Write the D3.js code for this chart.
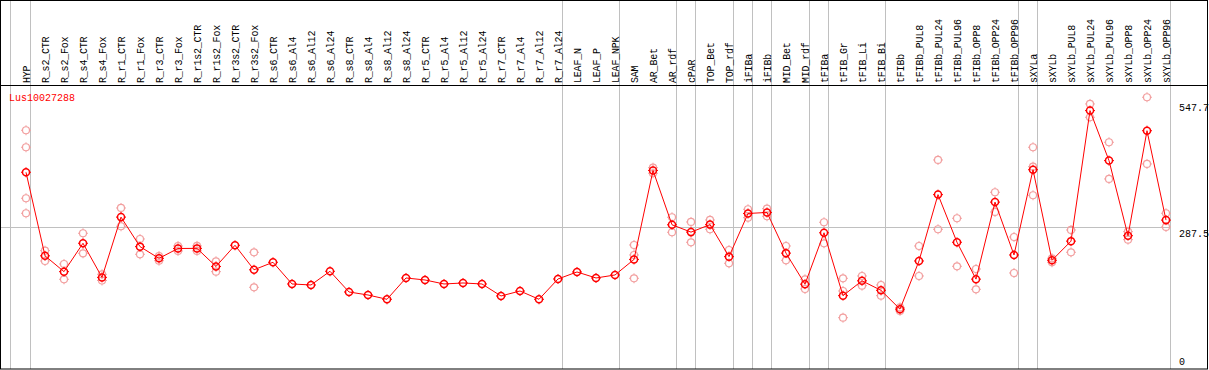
<!DOCTYPE html>
<html><head><meta charset="utf-8">
<script src="https://cdn.jsdelivr.net/npm/d3@7"></script>
<style>
html,body{margin:0;padding:0;background:#fff;}
svg{display:block;}
text{font-family:"Liberation Mono","DejaVu Sans Mono",monospace;font-size:10px;}
</style></head>
<body>
<svg id="chart" width="1209" height="370"></svg>
<script>
const geneName = "Lus10027288";
const categories = ["HYP","R_s2_CTR","R_s2_Fox","R_s4_CTR","R_s4_Fox","R_r1_CTR","R_r1_Fox","R_r3_CTR","R_r3_Fox","R_r1s2_CTR","R_r1s2_Fox","R_r3s2_CTR","R_r3s2_Fox","R_s6_CTR","R_s6_Al4","R_s6_Al12","R_s6_Al24","R_s8_CTR","R_s8_Al4","R_s8_Al12","R_s8_Al24","R_r5_CTR","R_r5_Al4","R_r5_Al12","R_r5_Al24","R_r7_CTR","R_r7_Al4","R_r7_Al12","R_r7_Al24","LEAF_N","LEAF_P","LEAF_NPK","SAM","AR_Bet","AR_rdf","cPAR","TOP_Bet","TOP_rdf","iFIBa","iFIBb","MID_Bet","MID_rdf","tFIBa","tFIB_Gr","tFIB_Li","tFIB_Bi","tFIBb","tFIBb_PUL8","tFIBb_PUL24","tFIBb_PUL96","tFIBb_OPP8","tFIBb_OPP24","tFIBb_OPP96","sXYLa","sXYLb","sXYLb_PUL8","sXYLb_PUL24","sXYLb_PUL96","sXYLb_OPP8","sXYLb_OPP24","sXYLb_OPP96"];
const means = [398.2,231.1,199.5,256.2,188,308.5,249.5,226.1,245.8,246,209.8,252.2,203.2,218.2,174.8,172.8,200.2,158.8,152.8,144.2,186.8,182.8,174.8,176.8,174.8,150.8,160.8,144.2,184.8,198.8,186.8,192.8,223.9,401.8,293.2,278.5,293.5,229.5,315.8,317.8,236.5,174.5,277.2,151.5,181.1,162.1,124.5,220.8,353.5,258.2,184.5,338.5,232.8,403.3,222.2,260.5,521.5,421.5,271.4,481.3,302.5];
const replicates = [
 [482.2,448.2,346.2,316.2],[241.4,220.8],[214.8,184.2],[276.2,236.2],[194.2,181.8],[326.8,290.2],[264.8,234.2],[230.8,221.4],[250.8,240.8],[251,241],[220.2,199.4],[],[238.2,168.2],[],[],[],[],[],[],[],[],[],[],[],[],[],[],[],[],[],[],[],
 [252.8,232.8,186.2],[407.4,396.2],[308.2,278.2],[298.8,258.2],[302.8,284.2],[242.8,216.2],[324.2,307.4],[325.4,310.2],[250.8,222.2],[184.2,164.8],[298.2,256.2],[186.2,160.8,107.4],[190.8,171.4],[172.8,151.4],[128,121],
 [250.8,190.8],[422.8,284.2],[306.2,210.2],[204.8,164.2],[358.2,318.8],[268.8,196.8],[448.2,409.4,352.2],[226.2,218.2],[282.8,238.2],[534.8,508.2],[458.2,384.8],[279.4,263.4],[548.2,414.8],[316.2,288.8]
];
const groupEnds = ["HYP","R_r7_Al24","LEAF_NPK","AR_rdf","cPAR","TOP_rdf","iFIBa","iFIBb","MID_rdf","tFIBa","tFIB_Bi","tFIBb_OPP96","sXYLa","sXYLb_OPP96"];
const yTicks = [547.7, 287.5, 0];

const svg = d3.select("#chart");
const x = d3.scalePoint().domain(categories).range([26, 1166]);
const y = d3.scaleLinear().domain([0, 547.7]).range([371.4, 97.5]);
const grey = "#c0c0c0";

// group separators
const seps = [x(categories[0]) - 15.5].concat(groupEnds.map(c => x(c) + 4.5));
svg.append("g").selectAll("line").data(seps).join("line")
  .attr("x1", d => d).attr("x2", d => d).attr("y1", 0).attr("y2", 369)
  .attr("stroke", grey).attr("stroke-width", 1);

// horizontal reference line at 287.5
const gy = Math.floor(y(287.5)) + 0.5;
svg.append("line").attr("x1", 0).attr("x2", 1170).attr("y1", gy).attr("y2", gy)
  .attr("stroke", grey).attr("stroke-width", 1);

// frame
svg.append("rect").attr("x", 0.5).attr("y", 0.5).attr("width", 1207).attr("height", 368.5)
  .attr("fill", "none").attr("stroke", "#000").attr("stroke-width", 1);
svg.append("line").attr("x1", 0).attr("x2", 1208).attr("y1", 85.5).attr("y2", 85.5)
  .attr("stroke", "#000").attr("stroke-width", 1);

// header labels
svg.append("g").selectAll("text").data(categories).join("text")
  .attr("transform", d => `translate(${x(d) + 3.5},83) rotate(-90)`)
  .attr("letter-spacing", "-0.2px")
  .attr("fill", "#000")
  .text(d => d);

// gene label
svg.append("text").attr("x", 9).attr("y", 101).attr("fill", "#ff0000").text(geneName);

// y labels
const yOff = {"547.7": 13.5, "287.5": 9, "0": -6};
svg.append("g").selectAll("text").data(yTicks).join("text")
  .attr("x", 1179).attr("y", d => y(d) + yOff[String(d)])
  .attr("fill", "#000").text(d => String(d));

// replicates
const repPts = [];
categories.forEach((c, i) => replicates[i].forEach(v => repPts.push({c, v})));
const marker = (g, color, sw) => {
  g.append("circle").attr("r", 3.5).attr("fill", "none").attr("stroke", color).attr("stroke-width", sw);
  [[0,-5,0,-3.5],[0,3.5,0,5],[-5,0,-3.5,0],[3.5,0,5,0]].forEach(s =>
    g.append("line").attr("x1", s[0]).attr("y1", s[1]).attr("x2", s[2]).attr("y2", s[3])
      .attr("stroke", color).attr("stroke-width", 1));
};
svg.append("g").selectAll("g").data(repPts).join("g")
  .attr("transform", d => `translate(${x(d.c)},${y(d.v)})`)
  .each(function(){ marker(d3.select(this), "#f2a0a0", 1.2); });

// mean line
const line = d3.line().x((d, i) => x(categories[i])).y(d => y(d));
svg.append("path").datum(means).attr("d", line)
  .attr("fill", "none").attr("stroke", "#ff0000").attr("stroke-width", 1);

// mean markers
svg.append("g").selectAll("g").data(means).join("g")
  .attr("transform", (d, i) => `translate(${x(categories[i])},${y(d)})`)
  .each(function(){ marker(d3.select(this), "#ff0000", 1.5); });
</script>
</body></html>
